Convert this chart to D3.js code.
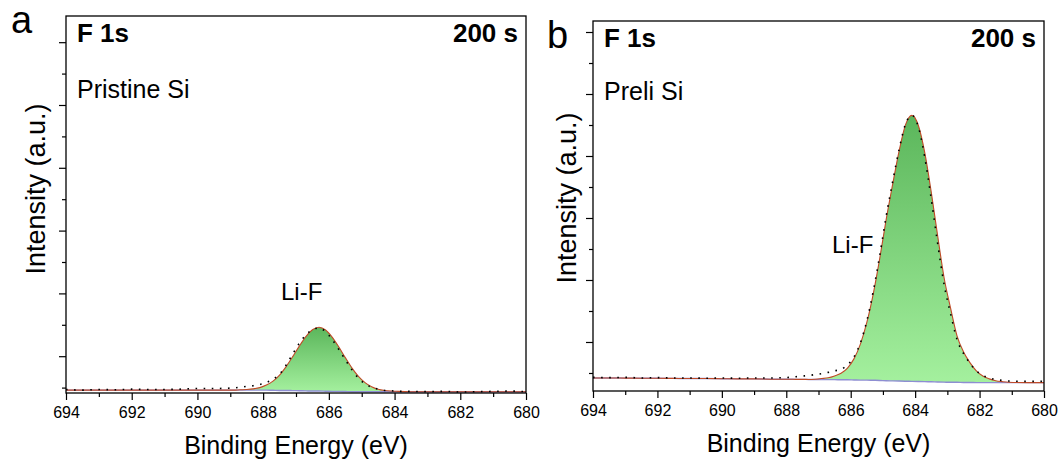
<!DOCTYPE html>
<html>
<head>
<meta charset="utf-8">
<script src="https://cdn.jsdelivr.net/npm/d3@7"></script>
<style>
  body { margin: 0; background: #fff; }
  svg text { font-family: "Liberation Sans", Arial, sans-serif; fill: #000; }
</style>
</head>
<body>
<svg id="chart" width="1061" height="462"></svg>
<script>
// ---- panel a : pristine Si, F 1s ----
var energiesA = [694, 693.5, 693, 692.5, 692, 691.5, 691, 690.5, 690, 689.5,
  689.1, 688.9, 688.7, 688.5, 688.3, 688.1, 687.9, 687.7, 687.5, 687.3, 687.1, 686.9, 686.7, 686.5,
  686.3, 686.1, 685.9, 685.7, 685.5, 685.3, 685.1, 684.9, 684.7, 684.5, 684.3, 684.1, 683.9,
  683.5, 683, 682.5, 682, 681.5, 681, 680.5, 680];
var backgroundA = [0.92, 0.92, 0.92, 0.92, 0.92, 0.92, 0.92, 0.92, 0.92, 0.92,
  0.92, 0.92, 0.92, 0.92, 0.92, 0.92, 0.92, 0.915, 0.91, 0.91, 0.905, 0.90, 0.895, 0.89,
  0.89, 0.885, 0.88, 0.88, 0.875, 0.87, 0.87, 0.87, 0.87, 0.87, 0.87, 0.87, 0.87,
  0.87, 0.87, 0.87, 0.87, 0.87, 0.87, 0.87, 0.87];
var peakA = [0, 0, 0, 0, 0, 0, 0, 0, 0, 0,
  0, 0, 0.01, 0.02, 0.04, 0.08, 0.16, 0.29, 0.49, 0.76, 1.08, 1.42, 1.73, 1.95,
  2.03, 1.95, 1.73, 1.42, 1.08, 0.76, 0.49, 0.29, 0.16, 0.08, 0.04, 0.02, 0.01,
  0, 0, 0, 0, 0, 0, 0, 0];
var rawA = [0.94, 0.92, 0.94, 0.93, 0.95, 0.94, 0.94, 0.95, 0.97, 0.97,
  0.98, 0.99, 1.01, 1.04, 1.06, 1.10, 1.16, 1.27, 1.43, 1.72, 2.07, 2.41, 2.68, 2.84,
  2.90, 2.78, 2.53, 2.22, 1.89, 1.57, 1.30, 1.12, 1.01, 0.95, 0.91, 0.90, 0.88,
  0.88, 0.87, 0.88, 0.86, 0.87, 0.88, 0.89, 0.87];

// ---- panel b : preli Si, F 1s ----
var energiesB = [694, 693.5, 693, 692.5, 692, 691.5, 691, 690.5, 690, 689.5, 689, 688.5,
  688.1, 687.9, 687.7, 687.5, 687.3, 687.1, 686.9, 686.7, 686.5, 686.3, 686.1, 685.9,
  685.7, 685.5, 685.3, 685.1, 684.9, 684.7, 684.5, 684.3, 684.1, 683.9, 683.7, 683.5,
  683.3, 683.1, 682.9, 682.7, 682.5, 682.3, 682.1, 681.9, 681.7, 681.5, 681.3, 681.1,
  680.5, 680];
var backgroundB = [0.84, 0.84, 0.835, 0.83, 0.83, 0.825, 0.82, 0.82, 0.815, 0.81, 0.81, 0.80,
  0.80, 0.80, 0.795, 0.795, 0.79, 0.79, 0.79, 0.785, 0.785, 0.78, 0.78, 0.775,
  0.77, 0.77, 0.765, 0.76, 0.75, 0.745, 0.74, 0.735, 0.73, 0.725, 0.72, 0.715,
  0.71, 0.705, 0.70, 0.70, 0.695, 0.695, 0.69, 0.69, 0.69, 0.69, 0.69, 0.69,
  0.69, 0.69];
var peakB = [0, 0, 0, 0, 0, 0, 0, 0, 0, 0, 0, 0,
  0, 0, 0, 0, 0, 0.01, 0.03, 0.06, 0.12, 0.21, 0.38, 0.68,
  1.16, 1.86, 2.79, 3.93, 5.20, 6.33, 7.41, 8.27, 8.58, 8.26, 7.38, 6.12,
  4.71, 3.36, 2.39, 1.50, 0.99, 0.64, 0.38, 0.21, 0.12, 0.06, 0.03, 0.01,
  0, 0];
var rawB = [0.86, 0.85, 0.86, 0.84, 0.85, 0.84, 0.84, 0.83, 0.84, 0.83, 0.84, 0.84,
  0.85, 0.86, 0.88, 0.90, 0.92, 0.95, 0.98, 1.02, 1.07, 1.12, 1.26, 1.52,
  1.97, 2.68, 3.64, 4.79, 6.05, 7.16, 8.20, 9.03, 9.31, 8.94, 7.95, 6.62,
  5.17, 3.85, 2.91, 2.08, 1.63, 1.32, 1.07, 0.92, 0.84, 0.79, 0.76, 0.74,
  0.73, 0.73];

// ---- ticks ----
var xMajorTicks = [694, 692, 690, 688, 686, 684, 682, 680];
var xMinorTicks = [693, 691, 689, 687, 685, 683, 681];
var yMajorTicks = [2, 4, 6, 8, 10, 12];
var yMinorTicks = [1, 3, 5, 7, 9, 11];

var svg = d3.select("#chart");

var defs = svg.append("defs");
var grad = defs.append("linearGradient")
    .attr("id", "peakFill")
    .attr("x1", 0).attr("y1", 0).attr("x2", 0).attr("y2", 1);
grad.append("stop").attr("offset", "0%").attr("stop-color", "#5bb65b");
grad.append("stop").attr("offset", "100%").attr("stop-color", "#a4f09e");

function drawPanel(cfg) {
  var x = d3.scaleLinear().domain([694, 680]).range([cfg.left, cfg.right]);
  var y = d3.scaleLinear().domain(cfg.yDomain).range([cfg.bottom, cfg.top]);

  var fit = cfg.background.map(function (b, i) { return b + cfg.peak[i]; });
  var pts = cfg.energies.map(function (e, i) {
    return {e: e, bg: cfg.background[i], fit: fit[i], raw: cfg.raw[i]};
  });

  var g = svg.append("g");

  defs.append("clipPath").attr("id", cfg.id + "-clip")
    .append("rect")
      .attr("x", cfg.left).attr("y", cfg.top)
      .attr("width", cfg.right - cfg.left).attr("height", cfg.bottom - cfg.top);

  var plot = g.append("g").attr("clip-path", "url(#" + cfg.id + "-clip)");

  // green component (between background and component top)
  var area = d3.area()
      .curve(d3.curveMonotoneX)
      .x(function (d) { return x(d.e); })
      .y0(function (d) { return y(d.bg); })
      .y1(function (d) { return y(d.fit); });
  plot.append("path")
      .datum(pts.filter(function (d) { return d.fit - d.bg > 0.0; }))
      .attr("d", area)
      .attr("fill", "url(#peakFill)");

  var line = function (key) {
    return d3.line().curve(d3.curveMonotoneX)
      .x(function (d) { return x(d.e); })
      .y(function (d) { return y(d[key]); });
  };

  // background
  plot.append("path").datum(pts).attr("d", line("bg"))
      .attr("fill", "none").attr("stroke", "#8e8ed2").attr("stroke-width", 1.4);
  // envelope
  plot.append("path").datum(pts).attr("d", line("fit"))
      .attr("fill", "none").attr("stroke", "#c04a28").attr("stroke-width", 1.1);
  // raw data, dotted
  plot.append("path").datum(pts).attr("d", line("raw"))
      .attr("fill", "none").attr("stroke", "#000").attr("stroke-width", 1.6)
      .attr("stroke-dasharray", "1.6,6.5");

  // x axis
  var xAxis = g.append("g")
      .attr("transform", "translate(0," + cfg.bottom + ")")
      .call(d3.axisBottom(x).tickValues(xMajorTicks).tickSize(7).tickSizeOuter(0).tickPadding(7));
  xAxis.attr("font-size", 16).attr("font-family", "Liberation Sans, Arial, sans-serif");
  xAxis.select(".domain").remove();
  g.append("g")
      .attr("transform", "translate(0," + cfg.bottom + ")")
      .call(d3.axisBottom(x).tickValues(xMinorTicks).tickSize(4).tickFormat(""))
      .select(".domain").remove();

  // y axis (no labels)
  g.append("g")
      .attr("transform", "translate(" + cfg.left + ",0)")
      .call(d3.axisLeft(y).tickValues(yMajorTicks).tickSize(7).tickFormat(""))
      .select(".domain").remove();
  g.append("g")
      .attr("transform", "translate(" + cfg.left + ",0)")
      .call(d3.axisLeft(y).tickValues(yMinorTicks).tickSize(4).tickFormat(""))
      .select(".domain").remove();

  g.selectAll(".tick line").attr("stroke-width", 1.2);

  // frame
  g.append("rect")
      .attr("x", cfg.left).attr("y", cfg.top)
      .attr("width", cfg.right - cfg.left).attr("height", cfg.bottom - cfg.top)
      .attr("fill", "none").attr("stroke", "#000").attr("stroke-width", 1.3);

  // texts
  g.append("text").attr("x", cfg.letterX).attr("y", cfg.letterY)
      .attr("font-size", 38).text(cfg.letter);
  g.append("text").attr("x", cfg.left + 11).attr("y", cfg.top + 26)
      .attr("font-size", 26).attr("font-weight", "bold").text("F 1s");
  g.append("text").attr("x", cfg.right - 8).attr("y", cfg.top + 26)
      .attr("font-size", 26).attr("font-weight", "bold")
      .attr("text-anchor", "end").text("200 s");
  g.append("text").attr("x", cfg.left + 11).attr("y", cfg.sampleY)
      .attr("font-size", 25).text(cfg.sample);
  g.append("text").attr("x", cfg.peakLabelX).attr("y", cfg.peakLabelY)
      .attr("font-size", 24).text("Li-F");

  g.append("text")
      .attr("x", (cfg.left + cfg.right) / 2).attr("y", cfg.bottom + 61)
      .attr("text-anchor", "middle").attr("font-size", 25)
      .text("Binding Energy (eV)");
  g.append("text")
      .attr("transform", "translate(" + cfg.yTitleX + "," + cfg.yTitleY + ") rotate(-90)")
      .attr("text-anchor", "middle").attr("font-size", 27)
      .text("Intensity (a.u.)");
}

drawPanel({
  id: "a", left: 66, right: 526, top: 16, bottom: 393,
  yDomain: [0.828, 12.834],
  energies: energiesA, background: backgroundA, peak: peakA, raw: rawA,
  letter: "a", letterX: 11, letterY: 33,
  sample: "Pristine Si", sampleY: 98,
  peakLabelX: 281, peakLabelY: 300,
  yTitleX: 45, yTitleY: 189
});

drawPanel({
  id: "b", left: 593, right: 1044, top: 21, bottom: 391,
  yDomain: [0.419, 12.355],
  energies: energiesB, background: backgroundB, peak: peakB, raw: rawB,
  letter: "b", letterX: 547, letterY: 48,
  sample: "Preli Si", sampleY: 100,
  peakLabelX: 832, peakLabelY: 253,
  yTitleX: 576, yTitleY: 198
});
</script>
</body>
</html>
